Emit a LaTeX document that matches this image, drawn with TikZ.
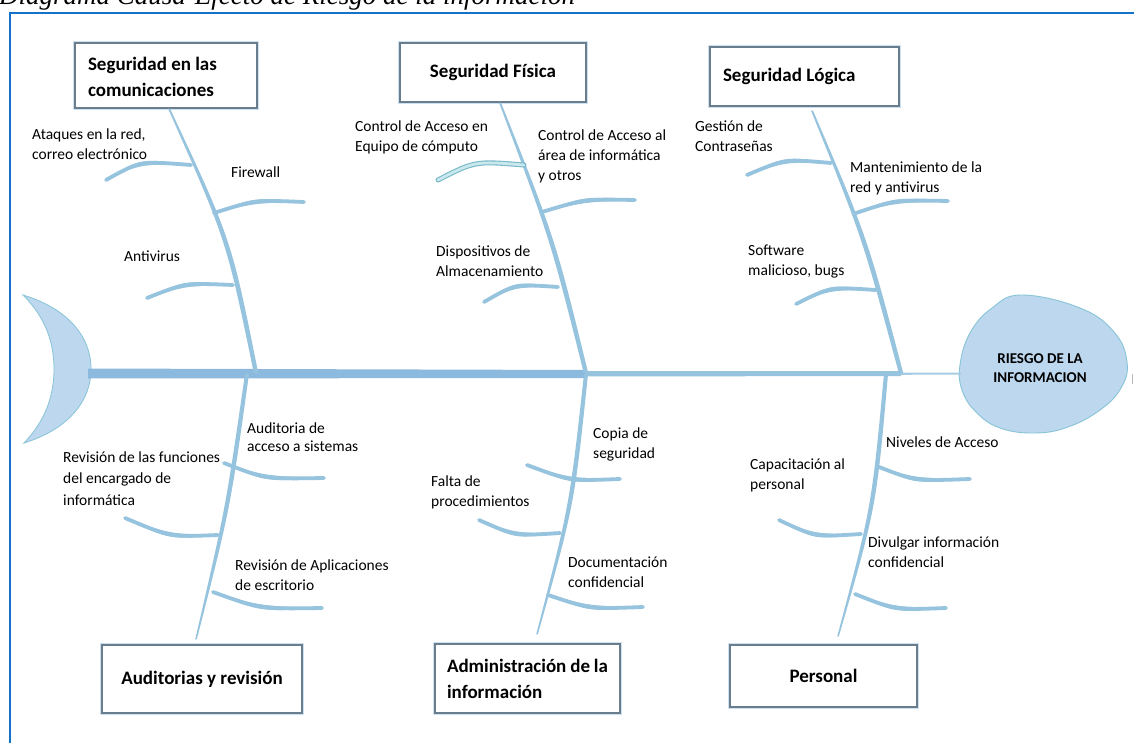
\documentclass[tikz,border=0pt]{standalone}
\usepackage{fontspec}
\setmainfont{Carlito}
\newfontfamily\ttlfont{Liberation Serif}
\usetikzlibrary{calc}
\definecolor{bonec}{RGB}{150,195,222}
\definecolor{mainc}{RGB}{140,185,222}
\definecolor{headfill}{RGB}{189,215,238}
\definecolor{headline}{RGB}{135,196,214}
\definecolor{framec}{RGB}{20,115,200}
\definecolor{boxc}{RGB}{105,125,140}
\definecolor{glowc}{RGB}{205,225,240}
\definecolor{selfill}{RGB}{200,232,238}
\definecolor{selline}{RGB}{120,185,200}
% tapered spine: #1 top, #2 control, #3 bottom, #4 #5 #6 half widths
\newcommand\spinebone[6]{%
  \fill[bonec] ([xshift=-#4pt]#1) .. controls ([xshift=-#5pt]#2) .. ([xshift=-#6pt]#3)
    -- ([xshift=#6pt]#3) .. controls ([xshift=#5pt]#2) .. ([xshift=#4pt]#1) -- cycle;}
% rib: #1 start, #2 control, #3 end
\newcommand\ribbone[3]{%
  \draw[bonec, line width=3.8pt, line cap=round] (#1) .. controls (#2) .. (#3);
  \fill[bonec] (#1) .. controls ([yshift=-3pt]#2) .. (#3) .. controls ([yshift=3pt]#2) .. (#1) -- cycle;}
\begin{document}
\begin{tikzpicture}[x=1pt,y=-1pt,
  hdr/.style={draw=boxc, line width=1.1pt, fill=white,
    preaction={draw=glowc, line width=4.5pt},
    font=\fontsize{19}{26}\selectfont\bfseries, inner ysep=0pt},
  lab/.style={anchor=north west, inner sep=0pt, align=left,
    font=\fontsize{15.5}{20}\selectfont},
]
\useasboundingbox (0,0) rectangle (1134,743);
\fill[white] (0,0) rectangle (1134,743);

% title (cut by the page top)
\node[anchor=base west, inner sep=0pt, font=\ttlfont\itshape\fontsize{27}{27}\selectfont] (title) at (-1,5)
  {Diagrama Causa-Efecto de Riesgo de la información};

% frame
\draw[framec, line width=1.6pt] (10,745) -- (10,13) -- (1136,13);

% header boxes
\node[hdr, minimum width=182pt, minimum height=65pt, text width=156pt, inner xsep=13pt, align=flush left]
  (b1) at (166,75.5) {\rule{0pt}{17pt}Seguridad en las\\comunicaciones};
\node[hdr, minimum width=186pt, minimum height=59pt, align=center]
  (b2) at (493,72.5) {Seguridad Física};
\node[hdr, minimum width=189pt, minimum height=59pt, text width=163pt, inner xsep=13pt, align=flush left]
  (b3) at (804.5,76.5) {Seguridad Lógica};
\node[hdr, minimum width=200pt, minimum height=68pt, align=center]
  (b4) at (202,679) {Auditorias y revisión};
\node[hdr, minimum width=185pt, minimum height=69pt, text width=161pt, inner xsep=12pt, align=flush left]
  (b5) at (527.5,678.5) {\rule{0pt}{15pt}Administración de la\\información};
\node[hdr, minimum width=187pt, minimum height=62pt, align=center]
  (b6) at (823.5,676) {Personal};

% tail (crescent)
\coordinate (tailE) at (88,373.5);
\filldraw[fill=headfill, draw=headline, line width=0.8pt] (23,295)
  .. controls (66,308) and (91,335) .. (91,369)
  .. controls (91,403) and (66,430) .. (24,443)
  .. controls (46,420) and (54,395) .. (54,369)
  .. controls (54,343) and (46,318) .. (23,295) -- cycle;

% head (egg)
\filldraw[fill=headfill, draw=headline, line width=0.9pt] plot[smooth cycle, tension=0.7] coordinates
  {(1022,295) (1080,308) (1114,332) (1127,362) (1121,388) (1100,410) (1068,427) (1035,433)
   (1000,428) (976,412) (962,390) (960,365) (970,333) (992,308)};
\coordinate (headW) at (961,373.5);
\node[font=\fontsize{15}{19}\selectfont\bfseries, align=center, inner sep=0pt] (head) at (1040,368)
  {RIESGO DE LA\\INFORMACION};
\draw[gray!55, line width=0.8pt] (1132,374) -- (1132,384);

% main line (tapering)
\fill[mainc] ([yshift=5pt]tailE) -- (586,370) -- (586,378) -- ([yshift=-5pt]tailE) -- cycle;
\fill[bonec] (586,371) -- (901,371.2) -- (901,376) -- (586,376.5) -- cycle;
\fill[bonec!85] (901,372.5) -- ([yshift=1pt]headW) -- ([yshift=-1pt]headW) -- (901,374.8) -- cycle;

% spine end points
\coordinate (s1t) at ([xshift=3pt]b1.south);
\coordinate (s2t) at ([xshift=7pt]b2.south);
\coordinate (s3t) at ([xshift=7.5pt,yshift=-4pt]b3.south);
\coordinate (s4b) at ([xshift=-6pt,yshift=5pt]b4.north);
\coordinate (s5b) at ([xshift=9.5pt,yshift=9pt]b5.north);
\coordinate (s6b) at ([xshift=14.5pt,yshift=8pt]b6.north);
\coordinate (s1b) at (256,373);
\coordinate (s2b) at (586,373);
\coordinate (s3b) at (901,373);
\coordinate (s4t) at (247,374);
\coordinate (s5t) at (586,374);
\coordinate (s6t) at (886,374);
\spinebone{s1t}{229,240}{s1b}{1}{2.6}{2.2}
\spinebone{s2t}{553,240}{s2b}{1}{2.6}{2.2}
\spinebone{s3t}{865,238}{s3b}{1}{2.6}{2.2}
\spinebone{s4t}{228,508}{s4b}{2}{2.4}{0.8}
\spinebone{s5t}{572,505}{s5b}{2}{2.4}{0.8}
\spinebone{s6t}{874,507}{s6b}{2}{2.4}{0.8}

% ribs, upper
\ribbone{191,165}{140,161}{106,180}
\ribbone{214,213}{255,200}{304,202}
\ribbone{233,285}{185,283}{147,298}
\draw[selline, line width=5pt, line cap=round] (524,165) .. controls (475,161) .. (438,180);
\draw[selfill, line width=2.8pt, line cap=round] (524,165) .. controls (475,161) .. (438,180);
\ribbone{542,212}{585,199}{635,200}
\ribbone{558,287}{515,284}{484,302}
\ribbone{831,163}{785,159}{747,175}
\ribbone{856,213}{895,200}{948,201}
\ribbone{876,290}{830,287}{796,304}
% ribs, lower
\ribbone{224,463}{265,479}{324,478}
\ribbone{218,535}{170,537}{125,518}
\ribbone{213,592}{260,609}{322,608}
\ribbone{527,465}{570,481}{620,479}
\ribbone{560,533}{515,536}{479,520}
\ribbone{548,595}{590,609}{643,607}
\ribbone{879,467}{915,481}{970,479}
\ribbone{861,534}{815,537}{779,520}
\ribbone{855,594}{895,610}{946,608}

% labels
\node[lab] (l1) at (32,125) {\strut Ataques en la red,\\correo electrónico};
\node[lab] (l2) at (231,163) {\strut Firewall};
\node[lab] (l3) at (124,247) {\strut Antivirus};
\node[lab] (l4) at (355,117) {\strut Control de Acceso en\\Equipo de cómputo};
\node[lab] (l5) at (538,126) {\strut Control de Acceso al\\área de informática\\y otros};
\node[lab] (l6) at (436,242) {\strut Dispositivos de\\Almacenamiento};
\node[lab] (l7) at (695,117) {\strut Gestión de\\Contraseñas};
\node[lab] (l8) at (850,158) {\strut Mantenimiento de la\\red y antivirus};
\node[lab] (l9) at (748,241) {\strut Software\\malicioso, bugs};
\node[lab, font=\fontsize{15.5}{18.5}\selectfont] (l10) at (247,420) {\strut Auditoria de\\acceso a sistemas};
\node[lab, font=\fontsize{15.5}{21.5}\selectfont] (l11) at (63,447) {\strut Revisión de las funciones\\del encargado de\\informática};
\node[lab] (l12) at (235,556) {\strut Revisión de Aplicaciones\\de escritorio};
\node[lab] (l13) at (593,424) {\strut Copia de\\seguridad};
\node[lab] (l14) at (431,472) {\strut Falta de\\procedimientos};
\node[lab] (l15) at (568,553) {\strut Documentación\\confidencial};
\node[lab] (l16) at (886,433) {\strut Niveles de Acceso};
\node[lab] (l17) at (750,455) {\strut Capacitación al\\personal};
\node[lab] (l18) at (868,533) {\strut Divulgar información\\confidencial};
\end{tikzpicture}
\end{document}
